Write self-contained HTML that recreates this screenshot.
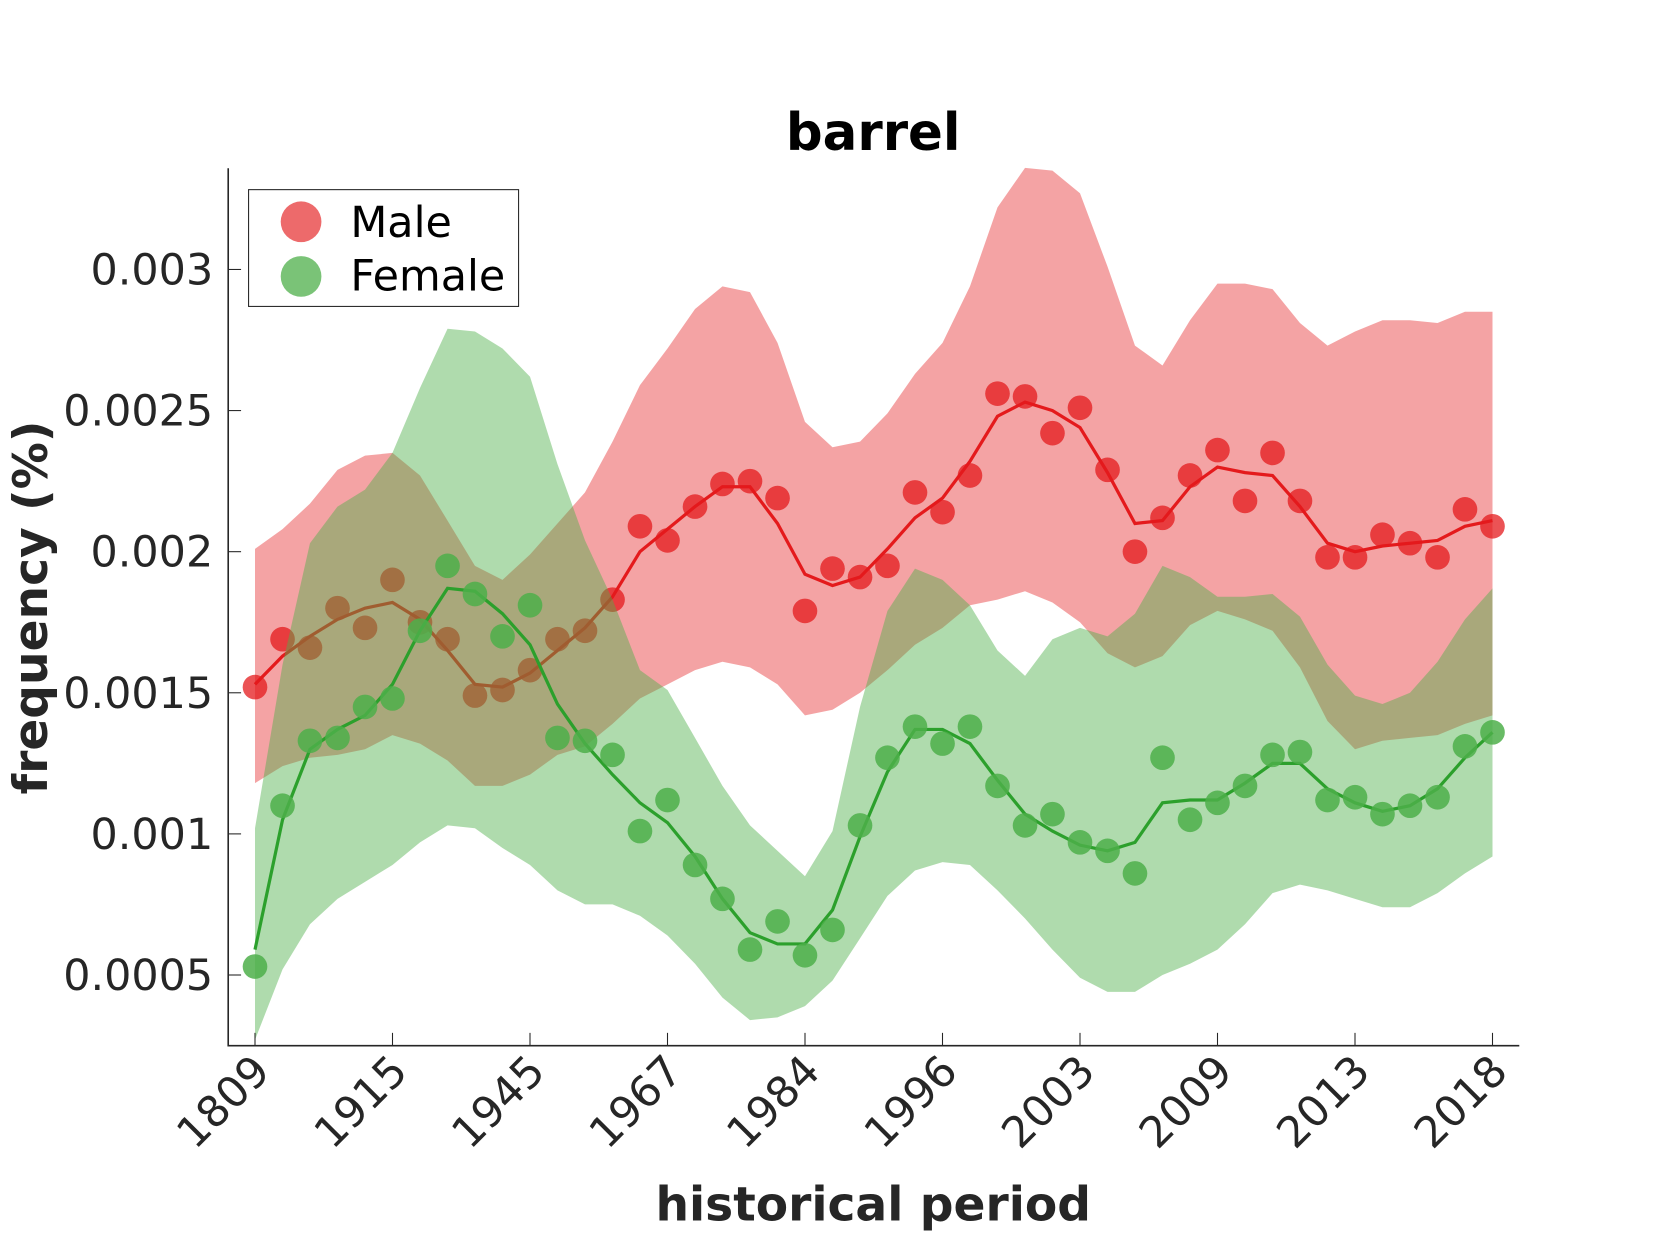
<!DOCTYPE html>
<html><head><meta charset="utf-8"><style>
html,body{margin:0;padding:0;background:#fff;}
svg{display:block;}
text{font-family:"DejaVu Sans","Liberation Sans",sans-serif;fill:#262626;}
</style></head><body>
<svg id="chart" width="1680" height="1260" viewBox="0 0 1568 1176" xmlns="http://www.w3.org/2000/svg">
<rect width="1568" height="1176" fill="#fff"/>
<g id="plot"></g>
<text x="815" y="140" text-anchor="middle" font-size="48" font-weight="bold" style="fill:#000">barrel</text>
<text x="815" y="1139" text-anchor="middle" font-size="44" font-weight="bold">historical period</text>
<text transform="translate(44,567) rotate(-90)" text-anchor="middle" font-size="44" font-weight="bold">frequency (%)</text>
<g>
<rect x="232" y="177" width="252" height="109" fill="#fff" stroke="#262626" stroke-width="1"/>
<circle cx="281" cy="207" r="19" fill="rgba(228,26,28,0.65)"/>
<text x="327" y="221" font-size="40" style="fill:#000">Male</text>
<circle cx="281" cy="258" r="19" fill="rgba(77,175,74,0.75)"/>
<text x="327" y="271" font-size="40" style="fill:#000">Female</text>
</g>
</svg>
<script>
const tickLabels = ["1809","1915","1945","1967","1984","1996","2003","2009","2013","2018"];
const yTicks = [0.0005,0.001,0.0015,0.002,0.0025,0.003];
const yTickLabels = ["0.0005","0.001","0.0015","0.002","0.0025","0.003"];
const maleDots = [0.00152,0.00169,0.00166,0.00180,0.00173,0.00190,0.00175,0.00169,0.00149,0.00151,0.00158,0.00169,0.00172,0.00183,0.00209,0.00204,0.00216,0.00224,0.00225,0.00219,0.00179,0.00194,0.00191,0.00195,0.00221,0.00214,0.00227,0.00256,0.00255,0.00242,0.00251,0.00229,0.00200,0.00212,0.00227,0.00236,0.00218,0.00235,0.00218,0.00198,0.00198,0.00206,0.00203,0.00198,0.00215,0.00209];
const maleLine = [0.00153,0.00163,0.00170,0.00176,0.00180,0.00182,0.00176,0.00165,0.00153,0.00152,0.00157,0.00165,0.00173,0.00184,0.00200,0.00208,0.00216,0.00223,0.00223,0.00210,0.00192,0.00188,0.00191,0.00201,0.00212,0.00219,0.00232,0.00248,0.00253,0.00250,0.00244,0.00228,0.00210,0.00211,0.00223,0.00230,0.00228,0.00227,0.00216,0.00203,0.00200,0.00202,0.00203,0.00204,0.00209,0.00211];
const maleUpper = [0.00201,0.00208,0.00217,0.00229,0.00234,0.00235,0.00227,0.00211,0.00195,0.00190,0.00199,0.00210,0.00221,0.00239,0.00259,0.00272,0.00286,0.00294,0.00292,0.00274,0.00246,0.00237,0.00239,0.00249,0.00263,0.00274,0.00294,0.00322,0.00336,0.00335,0.00327,0.00301,0.00273,0.00266,0.00282,0.00295,0.00295,0.00293,0.00281,0.00273,0.00278,0.00282,0.00282,0.00281,0.00285,0.00285];
const maleLower = [0.00118,0.00124,0.00127,0.00128,0.00130,0.00135,0.00132,0.00126,0.00117,0.00117,0.00121,0.00128,0.00131,0.00139,0.00148,0.00153,0.00158,0.00161,0.00159,0.00153,0.00142,0.00144,0.00150,0.00158,0.00167,0.00173,0.00181,0.00183,0.00186,0.00182,0.00175,0.00164,0.00159,0.00163,0.00174,0.00179,0.00176,0.00172,0.00159,0.00140,0.00130,0.00133,0.00134,0.00135,0.00139,0.00142];
const femaleDots = [0.00053,0.00110,0.00133,0.00134,0.00145,0.00148,0.00172,0.00195,0.00185,0.00170,0.00181,0.00134,0.00133,0.00128,0.00101,0.00112,0.00089,0.00077,0.00059,0.00069,0.00057,0.00066,0.00103,0.00127,0.00138,0.00132,0.00138,0.00117,0.00103,0.00107,0.00097,0.00094,0.00086,0.00127,0.00105,0.00111,0.00117,0.00128,0.00129,0.00112,0.00113,0.00107,0.00110,0.00113,0.00131,0.00136];
const femaleLine = [0.00059,0.00105,0.00130,0.00137,0.00142,0.00153,0.00172,0.00187,0.00186,0.00178,0.00167,0.00146,0.00132,0.00121,0.00111,0.00104,0.00092,0.00077,0.00065,0.00061,0.00061,0.00073,0.00099,0.00122,0.00137,0.00137,0.00132,0.00119,0.00107,0.00101,0.00096,0.00094,0.00097,0.00111,0.00112,0.00112,0.00118,0.00125,0.00125,0.00116,0.00111,0.00108,0.00110,0.00116,0.00127,0.00136];
const femaleUpper = [0.00102,0.00160,0.00203,0.00216,0.00222,0.00235,0.00258,0.00279,0.00278,0.00272,0.00262,0.00231,0.00204,0.00183,0.00158,0.00151,0.00134,0.00117,0.00103,0.00094,0.00085,0.00101,0.00145,0.00179,0.00194,0.00190,0.00181,0.00165,0.00156,0.00169,0.00173,0.00170,0.00178,0.00195,0.00191,0.00184,0.00184,0.00185,0.00177,0.00160,0.00149,0.00146,0.00150,0.00161,0.00176,0.00187];
const femaleLower = [0.00027,0.00052,0.00068,0.00077,0.00083,0.00089,0.00097,0.00103,0.00102,0.00095,0.00089,0.00080,0.00075,0.00075,0.00071,0.00064,0.00054,0.00042,0.00034,0.00035,0.00039,0.00048,0.00063,0.00078,0.00087,0.00090,0.00089,0.00080,0.00070,0.00059,0.00049,0.00044,0.00044,0.00050,0.00054,0.00059,0.00068,0.00079,0.00082,0.00080,0.00077,0.00074,0.00074,0.00079,0.00086,0.00092];

const NS = "http://www.w3.org/2000/svg";
const L = 213, R = 1418, T = 157, B = 976;
const X0 = 238, X1 = 1393;
const n = maleDots.length;
function xs(i){ return X0 + (X1 - X0) * i / (n - 1); }
function ys(v){ return 910 - (v - 0.0005) / 0.0005 * 131.7; }
const plot = document.getElementById('plot');
function mk(tag, attrs){ const e = document.createElementNS(NS, tag); for (const k in attrs) e.setAttribute(k, attrs[k]); plot.appendChild(e); return e; }

function band(up, lo, fill, name){
  let d = up.map((v,i)=>(i?'L':'M')+xs(i).toFixed(1)+','+ys(v).toFixed(1)).join('');
  for (let i = lo.length-1; i >= 0; i--) d += 'L'+xs(i).toFixed(1)+','+ys(lo[i]).toFixed(1);
  const p = mk('path', {d: d+'Z', fill: fill});
  
  
}
function line(vals, color, name){
  const p = mk('polyline', {points: vals.map((v,i)=>xs(i).toFixed(1)+','+ys(v).toFixed(1)).join(' '), fill:'none', stroke:color, 'stroke-width':3});
  
  
}
function dots(vals, color, name){
  vals.forEach((v,i)=>{
    const c = mk('circle', {cx: xs(i).toFixed(1), cy: ys(v).toFixed(1), r: 11.5, fill: color});
    
    
  });
}
band(maleUpper, maleLower, 'rgba(228,26,28,0.4)', 'male-confidence-band');
line(maleLine, '#e41a1c', 'male-trend-line');
dots(maleDots, 'rgba(228,26,28,0.75)', 'male-point');
band(femaleUpper, femaleLower, 'rgba(77,175,74,0.45)', 'female-confidence-band');
line(femaleLine, '#2ca02c', 'female-trend-line');
dots(femaleDots, 'rgba(77,175,74,0.85)', 'female-point');

const ax = mk('path', {d:`M${L},${T}L${L},${B}L${R},${B}`, fill:'none', stroke:'#262626', 'stroke-width':1.5});


yTicks.forEach((v,k)=>{
  const t = mk('line', {x1:L, x2:L+12, y1:ys(v), y2:ys(v), stroke:'#262626', 'stroke-width':1});
  
  
  const tx = mk('text', {x:L-14, y:ys(v)+14, 'text-anchor':'end', 'font-size':40});
  tx.textContent = yTickLabels[k];
  
  
});
tickLabels.forEach((lab,k)=>{
  const x = xs(k*5);
  const t = mk('line', {x1:x, x2:x, y1:B, y2:B-12, stroke:'#262626', 'stroke-width':1});
  
  
  const tx = mk('text', {transform:`translate(${x+16},${1002}) rotate(-45)`, 'text-anchor':'end', 'font-size':40});
  tx.textContent = lab;
  
  
});
</script>
</body></html>
